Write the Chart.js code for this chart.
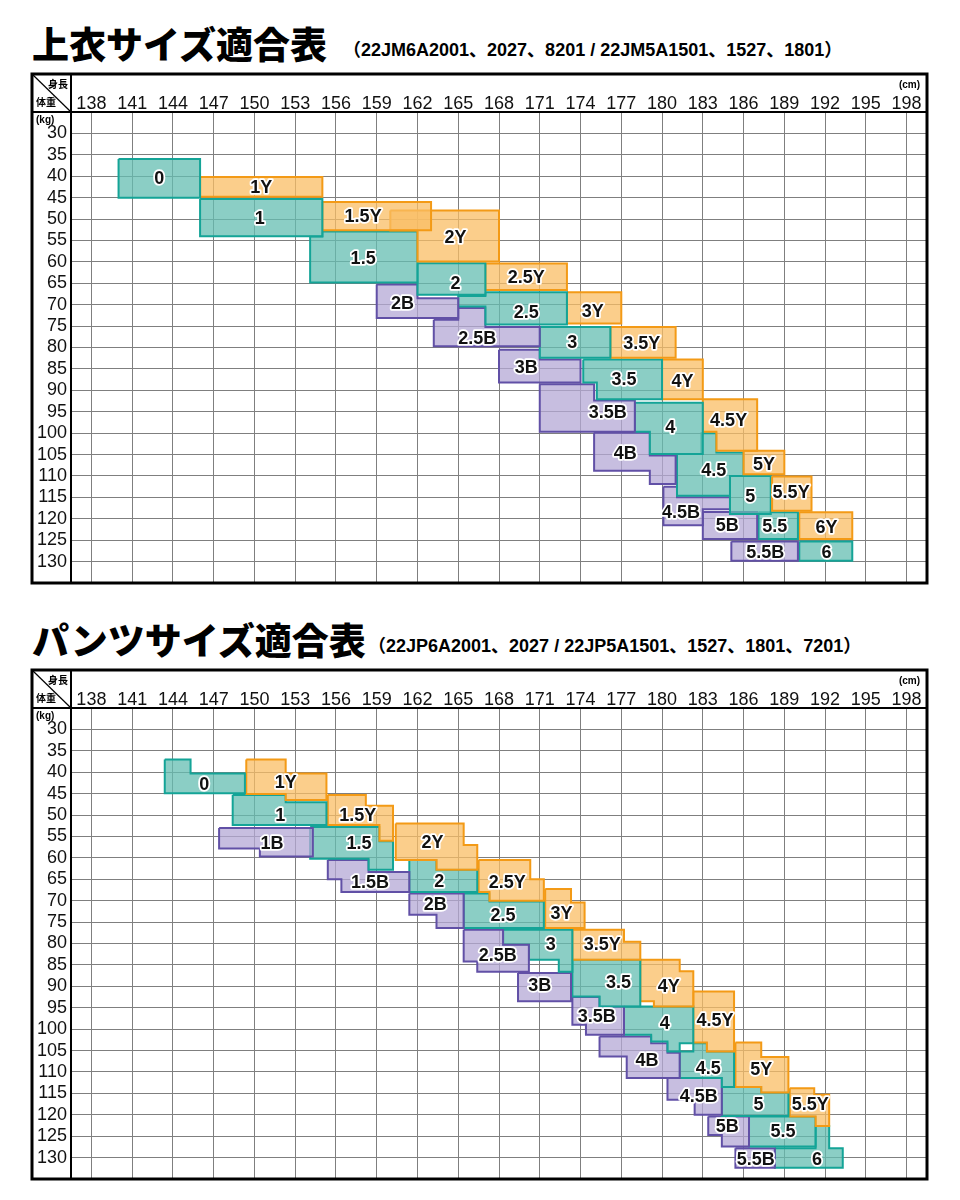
<!DOCTYPE html>
<html>
<head>
<meta charset="utf-8">
<script src="https://cdn.jsdelivr.net/npm/chart.js@4.4.1/dist/chart.umd.min.js"></script>
<style>
  body { margin: 0; background: #fff; }
  #page { position: relative; width: 960px; height: 1200px; overflow: hidden; }
  .title { position: absolute; left: 32px; font-family: "Noto Sans CJK JP", sans-serif; font-weight: 900; font-size: 37px; line-height: 37px; color: #000; white-space: nowrap; }
  .sub { position: absolute; font-family: "Liberation Sans", "Noto Sans CJK JP", sans-serif; font-weight: bold; font-size: 18px; line-height: 18px; color: #000; white-space: nowrap; }
  .box { position: absolute; left: 0; width: 960px; height: 600px; }
</style>
</head>
<body>
<div id="page">
  <div class="title" style="top:25px">上衣サイズ適合表</div>
  <div class="sub" style="top:41px;left:343px">（22JM6A2001、2027、8201 / 22JM5A1501、1527、1801）</div>
  <div class="box" style="top:0"><canvas id="topChart" width="960" height="600"></canvas></div>

  <div class="title" style="top:621px">パンツサイズ適合表</div>
  <div class="sub" style="top:637px;left:368px">（22JP6A2001、2027 / 22JP5A1501、1527、1801、7201）</div>
  <div class="box" style="top:596px"><canvas id="pantsChart" width="960" height="600"></canvas></div>
</div>

<script>
// axis ticks
const heightTicks = [138, 141, 144, 147, 150, 153, 156, 159, 162, 165, 168, 171, 174, 177, 180, 183, 186, 189, 192, 195, 198];
const weightTicks = [30, 35, 40, 45, 50, 55, 60, 65, 70, 75, 80, 85, 90, 95, 100, 105, 110, 115, 120, 125, 130];

/* 上衣 (tops) - [height cm, weight kg] corners of each size block */
const topNames = ["0", "1Y", "1", "1.5Y", "2Y", "1.5", "2", "2.5Y", "2B", "2.5", "3Y", "2.5B", "3", "3.5Y", "3B", "3.5", "4Y", "3.5B", "4", "4.5Y", "4B", "5Y", "4.5", "5.5Y", "5", "4.5B", "5B", "5.5", "6Y", "5.5B", "6"];
const topShapes = [
  [[140, 36], [146, 36], [146, 45], [140, 45]],
  [[146, 40.2], [155, 40.2], [155, 44.8], [146, 44.8]],
  [[146, 45.3], [155, 45.3], [155, 54], [146, 54]],
  [[155, 46], [163, 46], [163, 52.6], [155, 52.6]],
  [[160, 48], [168, 48], [168, 59.9], [162, 59.9], [162, 52.7], [160, 52.7]],
  [[155, 52.9], [162, 52.9], [162, 64.8], [154.1, 64.8], [154.1, 54.1], [155, 54.1]],
  [[162, 60.3], [167, 60.3], [167, 67.7], [162, 67.7]],
  [[167, 60.4], [173, 60.4], [173, 66.6], [167, 66.6]],
  [[159, 65.3], [162, 65.3], [162, 68.5], [165, 68.5], [165, 73.1], [159, 73.1]],
  [[167, 67.1], [173, 67.1], [173, 74.6], [167, 74.6], [167, 70.4], [165, 70.4], [165, 68], [167, 68]],
  [[173, 67.1], [177, 67.1], [177, 74.4], [173, 74.4]],
  [[163.2, 73.5], [165, 73.5], [165, 70.8], [167, 70.8], [167, 75.2], [171, 75.2], [171, 79.7], [163.2, 79.7]],
  [[171, 75.2], [176.2, 75.2], [176.2, 82.4], [171, 82.4]],
  [[176.2, 75.2], [181, 75.2], [181, 82.4], [176.2, 82.4]],
  [[168, 80.5], [171, 80.5], [171, 82.8], [174, 82.8], [174, 88.2], [168, 88.2]],
  [[174.2, 82.8], [180, 82.8], [180, 92.1], [175.2, 92.1], [175.2, 88.2], [174.2, 88.2]],
  [[180, 82.8], [183, 82.8], [183, 92.1], [180, 92.1]],
  [[171, 88.6], [175, 88.6], [175, 92.4], [178, 92.4], [178, 99.7], [171, 99.7]],
  [[178, 92.9], [183, 92.9], [183, 104.9], [179.1, 104.9], [179.1, 99.7], [178, 99.7]],
  [[183, 92.1], [187, 92.1], [187, 104.1], [184, 104.1], [184, 99.7], [183, 99.7]],
  [[175, 99.9], [179.1, 99.9], [179.1, 105.2], [181, 105.2], [181, 111.9], [179.1, 111.9], [179.1, 108.8], [175, 108.8]],
  [[186, 104.1], [189, 104.1], [189, 109.6], [186, 109.6]],
  [[181.1, 104.9], [182.9, 104.9], [182.9, 100], [184, 100], [184, 104.5], [186, 104.5], [186, 110], [185, 110], [185, 114.6], [181.1, 114.6]],
  [[188.1, 110.1], [191, 110.1], [191, 118.1], [188.1, 118.1]],
  [[185, 110], [188, 110], [188, 118.9], [185, 118.9]],
  [[180.1, 112.5], [181.1, 112.5], [181.1, 115], [185, 115], [185, 117.8], [183, 117.8], [183, 121.5], [180.1, 121.5]],
  [[183, 118.4], [187, 118.4], [187, 124.7], [183, 124.7]],
  [[187.1, 118.5], [190, 118.5], [190, 124.7], [187.1, 124.7]],
  [[190.1, 118.5], [194, 118.5], [194, 124.7], [190.1, 124.7]],
  [[185.1, 125.3], [190, 125.3], [190, 129.8], [185.1, 129.8]],
  [[190.1, 125.3], [194, 125.3], [194, 129.8], [190.1, 129.8]]
];
const topLabelAt = [[143, 40.4], [150.5, 42.5], [150.4, 49.7], [158, 49.3], [164.8, 54.2], [158, 59], [164.8, 64.9], [170, 63.5], [160.9, 69.7], [170, 71.7], [174.9, 71.4], [166.4, 77.7], [173.4, 78.8], [178.5, 79], [170, 84.6], [177.2, 87.4], [181.5, 87.9], [176, 95.1], [180.6, 98.6], [184.9, 97], [177.3, 104.7], [187.5, 107.2], [183.8, 108.6], [189.5, 113.8], [186.5, 114.7], [181.4, 118.4], [184.8, 121.4], [188.3, 121.7], [192.1, 121.9], [187.6, 127.7], [192.1, 127.7]];

/* パンツ (pants) */
const pantsNames = ["0", "1Y", "1", "1.5Y", "1B", "1.5", "2Y", "1.5B", "2", "2.5Y", "2B", "2.5", "3Y", "2.5B", "3", "3.5Y", "3B", "3.5", "4Y", "3.5B", "4", "4.5Y", "4B", "4.5", "5Y", "4.5B", "5", "5.5Y", "5B", "5.5", "5.5B", "6"];
const pantsShapes = [
  [[143.4, 37], [145.3, 37], [145.3, 40.3], [149.3, 40.3], [149.3, 44.9], [143.4, 44.9]],
  [[149.4, 37], [152.3, 37], [152.3, 40.3], [155.3, 40.3], [155.3, 46.5], [152.3, 46.5], [152.3, 45.1], [149.4, 45.1]],
  [[148.4, 45.3], [152.3, 45.3], [152.3, 47], [155.3, 47], [155.3, 52.3], [148.4, 52.3]],
  [[155.4, 45.3], [158.2, 45.3], [158.2, 47.8], [160.2, 47.8], [160.2, 56], [159.2, 56], [159.2, 52.3], [155.4, 52.3]],
  [[147.4, 53], [154.3, 53], [154.3, 59.7], [150.4, 59.7], [150.4, 57.8], [147.4, 57.8]],
  [[154.1, 52.8], [159.2, 52.8], [159.2, 56.1], [160.2, 56.1], [160.2, 62.8], [158.4, 62.8], [158.4, 60.2], [154.1, 60.2]],
  [[160.4, 52], [165.4, 52], [165.4, 57], [166.4, 57], [166.4, 62.8], [163.4, 62.8], [163.4, 60.5], [160.4, 60.5]],
  [[155.4, 60.5], [158.4, 60.5], [158.4, 63.3], [161.4, 63.3], [161.4, 68], [156.4, 68], [156.4, 65], [155.4, 65]],
  [[161.4, 60.5], [163.4, 60.5], [163.4, 62.8], [166.4, 62.8], [166.4, 68], [161.4, 68]],
  [[166.5, 60.5], [170.3, 60.5], [170.3, 65], [171.3, 65], [171.3, 70], [167.3, 70], [167.3, 68], [166.5, 68]],
  [[161.4, 68.3], [165.4, 68.3], [165.4, 76.4], [163.4, 76.4], [163.4, 73.3], [161.4, 73.3]],
  [[165.4, 68.3], [167.3, 68.3], [167.3, 70.2], [171.3, 70.2], [171.3, 76.4], [165.4, 76.4]],
  [[171.4, 67.3], [173.3, 67.3], [173.3, 70.4], [174.3, 70.4], [174.3, 76.4], [171.4, 76.4]],
  [[165.4, 76.8], [168.3, 76.8], [168.3, 80.3], [170.2, 80.3], [170.2, 86.6], [166.4, 86.6], [166.4, 84.2], [165.4, 84.2]],
  [[168.3, 76.8], [173.4, 76.8], [173.4, 86.6], [172.4, 86.6], [172.4, 83.8], [170.2, 83.8], [170.2, 80.3], [168.3, 80.3]],
  [[173.4, 76.8], [177.2, 76.8], [177.2, 79.6], [178.4, 79.6], [178.4, 83.8], [173.4, 83.8]],
  [[169.4, 86.9], [173.3, 86.9], [173.3, 93.5], [169.4, 93.5]],
  [[173.4, 83.8], [178.4, 83.8], [178.4, 94.7], [175.4, 94.7], [175.4, 92.4], [173.4, 92.4]],
  [[178.4, 83.8], [181.3, 83.8], [181.3, 86.5], [182.3, 86.5], [182.3, 94.7], [179.4, 94.7], [179.4, 93.5], [178.4, 93.5]],
  [[173.4, 92.5], [175.4, 92.5], [175.4, 94.7], [177.2, 94.7], [177.2, 101.3], [174.4, 101.3], [174.4, 99], [173.4, 99]],
  [[177.2, 94.7], [182.3, 94.7], [182.3, 103.3], [181.3, 103.3], [181.3, 105.2], [180.4, 105.2], [180.4, 102.9], [179.2, 102.9], [179.2, 101.3], [177.2, 101.3]],
  [[182.3, 91.2], [185.3, 91.2], [185.3, 105.2], [183.3, 105.2], [183.3, 103.1], [182.3, 103.1]],
  [[175.4, 101.7], [179.2, 101.7], [179.2, 103.3], [180.4, 103.3], [180.4, 105.5], [181.3, 105.5], [181.3, 111.4], [177.4, 111.4], [177.4, 106.4], [175.4, 106.4]],
  [[181.3, 105.2], [182.3, 105.2], [182.3, 103.3], [183.3, 103.3], [183.3, 105.2], [185.3, 105.2], [185.3, 113.5], [184.4, 113.5], [184.4, 111.4], [181.3, 111.4]],
  [[185.4, 103.1], [187.3, 103.1], [187.3, 106.5], [189.3, 106.5], [189.3, 114.8], [187.3, 114.8], [187.3, 113.5], [185.4, 113.5]],
  [[180.4, 111.4], [184.4, 111.4], [184.4, 120], [182.4, 120], [182.4, 116.5], [180.4, 116.5]],
  [[184.4, 113.5], [187.3, 113.5], [187.3, 114.8], [189.3, 114.8], [189.3, 120.3], [184.4, 120.3]],
  [[189.4, 113.8], [191.2, 113.8], [191.2, 115.3], [192.3, 115.3], [192.3, 122.6], [191.3, 122.6], [191.3, 120.4], [189.4, 120.4]],
  [[183.4, 120.4], [186.4, 120.4], [186.4, 127.4], [184.4, 127.4], [184.4, 124.7], [183.4, 124.7]],
  [[186.4, 120.4], [191.3, 120.4], [191.3, 127.4], [186.4, 127.4]],
  [[185.4, 127.8], [188.3, 127.8], [188.3, 132.4], [185.4, 132.4]],
  [[188.3, 127.8], [191.3, 127.8], [191.3, 122.6], [192.3, 122.6], [192.3, 127.8], [193.3, 127.8], [193.3, 132.4], [188.3, 132.4]]
];
const pantsLabelAt = [[146.3, 42.8], [152.3, 42.2], [151.9, 50], [157.6, 50], [151.3, 56.5], [157.7, 56.5], [163.1, 56.3], [158.5, 65.6], [163.6, 65.4], [168.6, 65.6], [163.3, 70.7], [168.3, 73.3], [172.6, 72.8], [167.9, 82.7], [171.8, 80.1], [175.6, 80.1], [171, 89.7], [176.8, 89], [180.5, 90], [175.2, 97], [180.2, 98.5], [183.9, 97.8], [178.9, 107.3], [183.4, 109.2], [187.3, 109.4], [182.7, 115.7], [187.1, 117.5], [190.9, 117.5], [184.8, 122.6], [188.9, 123.8], [186.9, 130.3], [191.4, 130.3]];

const fillColors = { Y: "rgba(250,190,100,0.75)", T: "rgba(100,190,178,0.75)", B: "rgba(180,168,214,0.75)" };
const lineColors = { Y: "#f39a16", T: "#14a497", B: "#6150a6" };

function groupOf(name) {
  if (name.endsWith("Y")) return "Y";
  if (name.endsWith("B")) return "B";
  return "T";
}

// size names on top of the blocks, white halo like the print
const sizeLabels = {
  id: "sizeLabels",
  afterDatasetsDraw(chart, args, opts) {
    const ctx = chart.ctx;
    const xs = chart.scales.x, ys = chart.scales.y;
    ctx.save();
    ctx.font = 'bold 18px "Liberation Sans", Arial, sans-serif';
    ctx.textAlign = "center";
    ctx.textBaseline = "middle";
    ctx.lineJoin = "round";
    ctx.lineWidth = 3.5;
    ctx.strokeStyle = "#fff";
    ctx.fillStyle = "#111";
    opts.names.forEach(function (n, i) {
      const px = xs.getPixelForValue(opts.at[i][0]);
      const py = ys.getPixelForValue(opts.at[i][1]) + 1;
      ctx.strokeText(n, px, py);
      ctx.fillText(n, px, py);
    });
    ctx.restore();
  }
};

// table frame, header lines and corner cell
const tableFrame = {
  id: "tableFrame",
  afterDraw(chart) {
    const ctx = chart.ctx;
    const a = chart.chartArea;
    const left = a.left - chart.scales.y.width;
    const top = a.top - chart.scales.x.height;
    ctx.save();
    ctx.strokeStyle = "#000";
    ctx.lineWidth = 2;
    ctx.beginPath();
    ctx.moveTo(left, a.top); ctx.lineTo(a.right, a.top);
    ctx.moveTo(a.left, top); ctx.lineTo(a.left, a.bottom);
    ctx.stroke();
    ctx.lineWidth = 1.2;
    ctx.beginPath();
    ctx.moveTo(left, top); ctx.lineTo(a.left, a.top);
    ctx.stroke();
    ctx.lineWidth = 3;
    ctx.strokeRect(left, top, a.right - left, a.bottom - top);

    ctx.fillStyle = "#000";
    ctx.font = 'bold 10px "Noto Sans CJK JP", sans-serif';
    ctx.textBaseline = "middle";
    ctx.textAlign = "right";
    ctx.fillText("身長", a.left - 3, top + 10);
    ctx.textAlign = "left";
    ctx.fillText("体重", left + 4, a.top - 10);
    ctx.font = 'bold 10px "Liberation Sans", Arial, sans-serif';
    ctx.fillText("(kg)", left + 4, a.top + 8);
    ctx.textAlign = "right";
    ctx.fillText("(cm)", a.right - 7, top + 11);
    ctx.restore();
  }
};

Chart.defaults.font.family = '"Liberation Sans", Arial, sans-serif';

function makeSizeChart(canvasId, names, shapes, labelAt) {
  const ctx = document.getElementById(canvasId).getContext("2d");
  return new Chart(ctx, {
    type: "scatter",
    data: {
      datasets: names.map(function (n, i) {
        const g = groupOf(n);
        const pts = shapes[i].concat([shapes[i][0]]);
        return {
          label: n,
          data: pts.map(p => ({ x: p[0], y: p[1] })),
          showLine: true,
          fill: "shape",
          backgroundColor: fillColors[g],
          borderColor: lineColors[g],
          borderWidth: 2,
          borderJoinStyle: "miter",
          tension: 0,
          pointRadius: 0,
          pointHoverRadius: 0
        };
      })
    },
    options: {
      responsive: false,
      animation: false,
      events: [],
      layout: { padding: { left: 32, top: 74, right: 33, bottom: 17 } },
      plugins: {
        legend: { display: false },
        tooltip: { enabled: false },
        sizeLabels: { names: names, at: labelAt }
      },
      scales: {
        x: {
          type: "linear",
          position: "top",
          min: 136.5,
          max: 199.5,
          afterBuildTicks: s => { s.ticks = heightTicks.map(v => ({ value: v })); },
          afterFit: s => { s.height = 38; },
          grid: { color: "#7f7f7f", lineWidth: 1, drawTicks: false },
          border: { display: false },
          ticks: { color: "#111", font: { size: 18 }, padding: -3, maxRotation: 0, autoSkip: false }
        },
        y: {
          type: "linear",
          reverse: true,
          min: 25,
          max: 135,
          afterBuildTicks: s => { s.ticks = weightTicks.map(v => ({ value: v })); },
          afterFit: s => { s.width = 39; },
          grid: { color: "#7f7f7f", lineWidth: 1, drawTicks: false },
          border: { display: false },
          ticks: { color: "#111", font: { size: 18 }, padding: 4, autoSkip: false }
        }
      }
    },
    plugins: [sizeLabels, tableFrame]
  });
}

makeSizeChart("topChart", topNames, topShapes, topLabelAt);
makeSizeChart("pantsChart", pantsNames, pantsShapes, pantsLabelAt);
</script>
</body>
</html>
